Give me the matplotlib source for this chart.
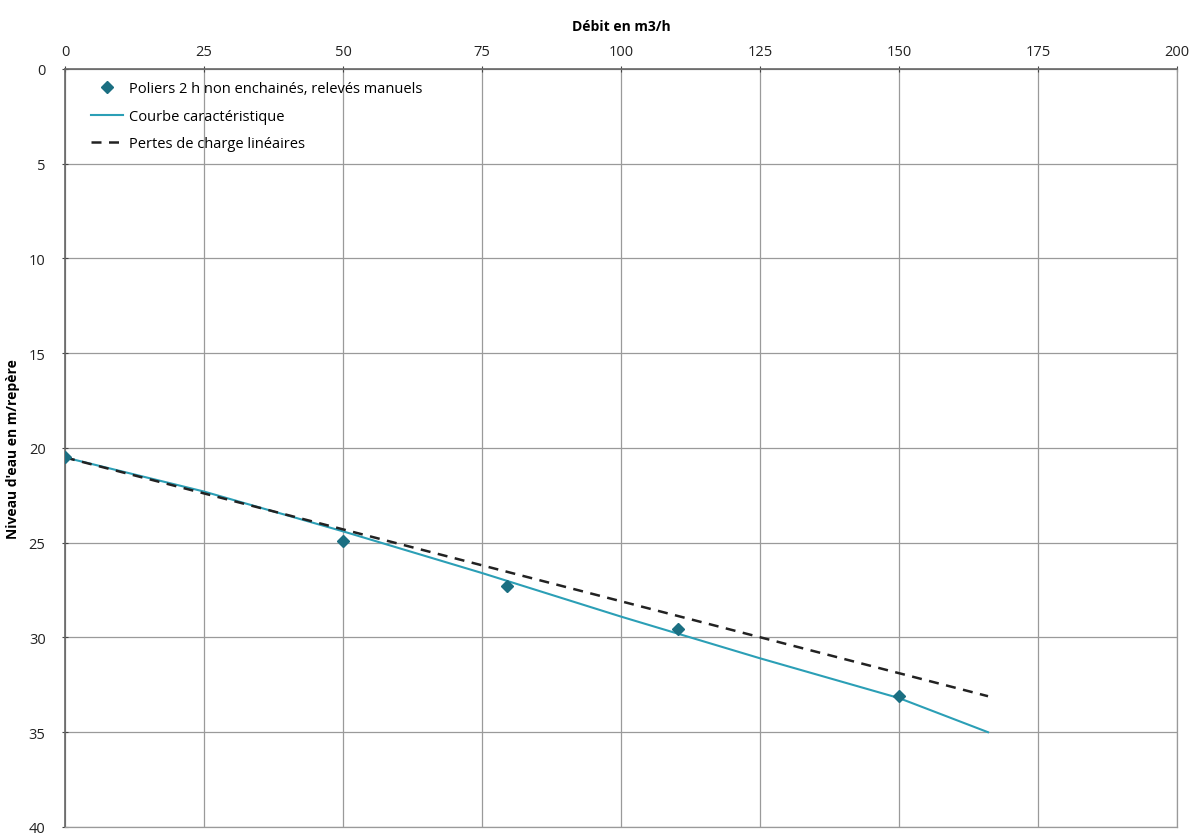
import matplotlib
matplotlib.use("Agg")
import matplotlib.pyplot as plt

plt.rcParams['font.family'] = ['Open Sans', 'DejaVu Sans']

# Data
paliers_q = [0, 50, 79.5, 110.3, 150]
paliers_niveau = [20.5, 24.9, 27.3, 29.55, 33.1]

courbe_q = [0, 25, 50, 75, 100, 125, 150, 166]
courbe_niveau = [20.5, 22.3, 24.4, 26.6, 28.9, 31.1, 33.2, 35.0]

pertes_q = [0, 166]
pertes_niveau = [20.5, 33.1]

x_ticks = [0, 25, 50, 75, 100, 125, 150, 175, 200]
y_ticks = [0, 5, 10, 15, 20, 25, 30, 35, 40]

fig = plt.figure(figsize=(11.95, 8.37), dpi=100)
ax = fig.add_axes([0.0544, 0.0108, 0.9306, 0.9056])

ax.plot(paliers_q, paliers_niveau, linestyle='none', marker='D', markersize=6,
        color='#1b6f82', label='Poliers 2 h non enchainés, relevés manuels', zorder=4)
ax.plot(courbe_q, courbe_niveau, color='#2b9fb6', linewidth=1.5,
        label='Courbe caractéristique', zorder=3)
ax.plot(pertes_q, pertes_niveau, color='#222222', linewidth=1.8,
        linestyle=(0, (4, 3)), label='Pertes de charge linéaires', zorder=3)

ax.set_xlim(0, 200)
ax.set_ylim(40, 0)
ax.set_xticks(x_ticks)
ax.set_yticks(y_ticks)
ax.xaxis.tick_top()
ax.xaxis.set_label_position('top')
ax.tick_params(axis='both', labelsize=10.5, colors='#444444', length=4,
               direction='inout')
ax.tick_params(axis='x', labelcolor='#222222', pad=5)
ax.tick_params(axis='y', labelcolor='#222222', pad=12)
ax.grid(True, color='#9a9a9a', linewidth=0.9)
ax.set_axisbelow(True)
for side in ['top', 'left']:
    ax.spines[side].set_color('#666666')
    ax.spines[side].set_linewidth(1.2)
for side in ['bottom', 'right']:
    ax.spines[side].set_color('#9a9a9a')
    ax.spines[side].set_linewidth(0.9)

ax.set_xlabel('Débit en m3/h', fontsize=10, fontweight='bold', labelpad=10)
ax.set_ylabel("Niveau d'eau en m/repère", fontsize=10, fontweight='bold', labelpad=6)

leg = ax.legend(loc='upper left', bbox_to_anchor=(0.014, 0.997), frameon=False,
                fontsize=10.5, handlelength=2.2, handletextpad=0.4,
                labelspacing=0.85, borderaxespad=0.3)

fig.savefig('out.png', dpi=100)
